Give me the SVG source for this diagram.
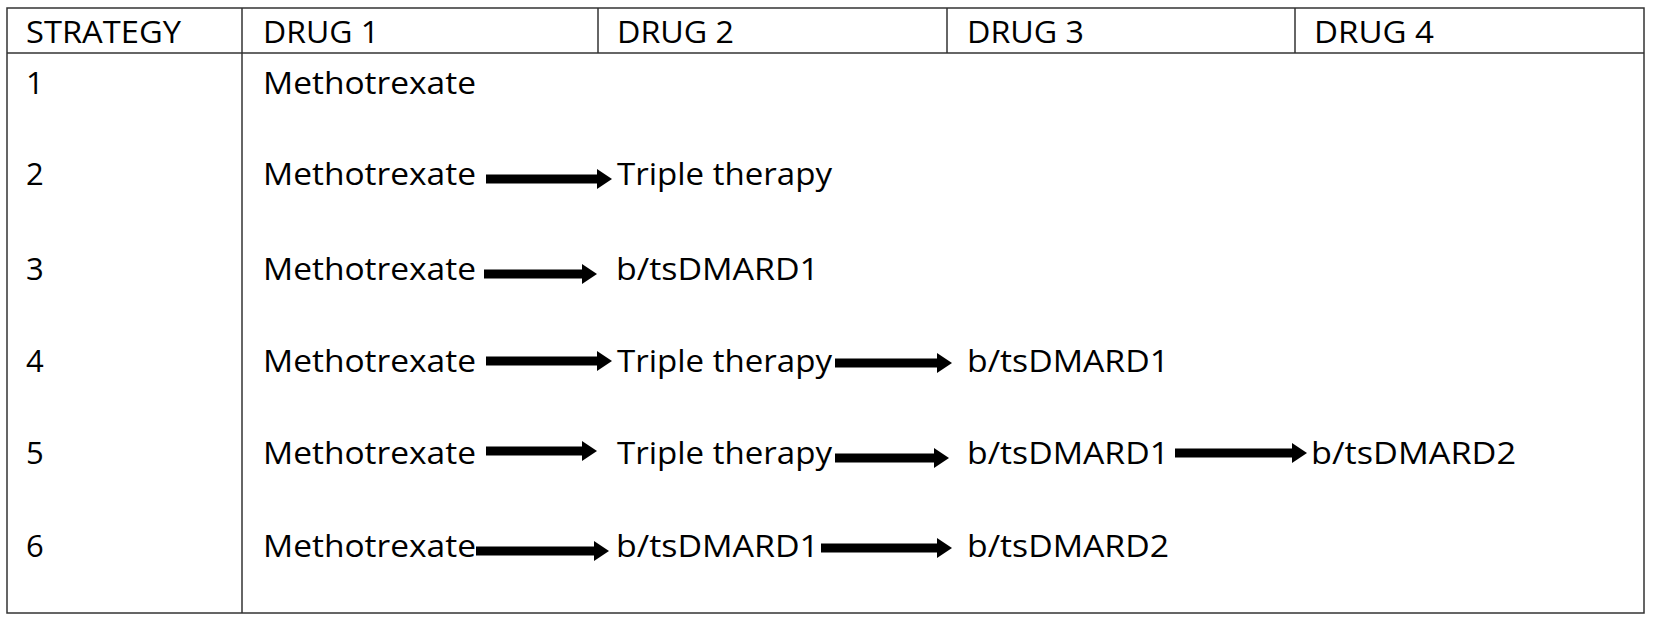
<svg xmlns="http://www.w3.org/2000/svg" width="1654" height="623" viewBox="0 0 1654 623">
<style>
.t{font-family:"Open Sans","Liberation Sans",sans-serif;font-size:31px;fill:#000}
.g{stroke:#333;stroke-width:1.5;fill:none}
.a{stroke:#000;stroke-width:9}
</style>
<defs>
<marker id="ah" markerUnits="userSpaceOnUse" markerWidth="18" markerHeight="22" refX="0" refY="10" orient="auto">
<path d="M0,0 L15,10 L0,20 z" fill="#000"/>
</marker>
</defs>
<rect width="1654" height="623" fill="#fff"/>
<g id="grid">
<rect class="g" x="7" y="8" width="1637" height="605"/>
<line class="g" x1="7" y1="53" x2="1644" y2="53"/>
<line class="g" x1="242" y1="8" x2="242" y2="613"/>
<line class="g" x1="598" y1="8" x2="598" y2="53"/>
<line class="g" x1="947" y1="8" x2="947" y2="53"/>
<line class="g" x1="1295" y1="8" x2="1295" y2="53"/>
</g>
<g id="header">
<text class="t" x="26" y="43" textLength="155" lengthAdjust="spacingAndGlyphs">STRATEGY</text>
<text class="t" x="263" y="43" textLength="116" lengthAdjust="spacingAndGlyphs">DRUG 1</text>
<text class="t" x="617" y="43" textLength="117" lengthAdjust="spacingAndGlyphs">DRUG 2</text>
<text class="t" x="967" y="43" textLength="117" lengthAdjust="spacingAndGlyphs">DRUG 3</text>
<text class="t" x="1314" y="43" textLength="120" lengthAdjust="spacingAndGlyphs">DRUG 4</text>
</g>
<g id="strategies">
<text class="t" x="26" y="94">1</text>
<text class="t" x="26" y="185">2</text>
<text class="t" x="26" y="280">3</text>
<text class="t" x="26" y="372">4</text>
<text class="t" x="26" y="464">5</text>
<text class="t" x="26" y="557">6</text>
</g>
<g id="row1"><text class="t" x="263" y="94" textLength="213" lengthAdjust="spacingAndGlyphs">Methotrexate</text></g>
<g id="row2">
<text class="t" x="263" y="185" textLength="213" lengthAdjust="spacingAndGlyphs">Methotrexate</text>
<text class="t" x="617" y="185" textLength="215" lengthAdjust="spacingAndGlyphs">Triple therapy</text>
</g>
<g id="row3">
<text class="t" x="263" y="280" textLength="213" lengthAdjust="spacingAndGlyphs">Methotrexate</text>
<text class="t" x="616" y="280" textLength="203" lengthAdjust="spacingAndGlyphs">b/tsDMARD1</text>
</g>
<g id="row4">
<text class="t" x="263" y="372" textLength="213" lengthAdjust="spacingAndGlyphs">Methotrexate</text>
<text class="t" x="617" y="372" textLength="215" lengthAdjust="spacingAndGlyphs">Triple therapy</text>
<text class="t" x="967" y="372" textLength="202" lengthAdjust="spacingAndGlyphs">b/tsDMARD1</text>
</g>
<g id="row5">
<text class="t" x="263" y="464" textLength="213" lengthAdjust="spacingAndGlyphs">Methotrexate</text>
<text class="t" x="617" y="464" textLength="215" lengthAdjust="spacingAndGlyphs">Triple therapy</text>
<text class="t" x="967" y="464" textLength="202" lengthAdjust="spacingAndGlyphs">b/tsDMARD1</text>
<text class="t" x="1311" y="464" textLength="205" lengthAdjust="spacingAndGlyphs">b/tsDMARD2</text>
</g>
<g id="row6">
<text class="t" x="263" y="557" textLength="213" lengthAdjust="spacingAndGlyphs">Methotrexate</text>
<text class="t" x="616" y="557" textLength="203" lengthAdjust="spacingAndGlyphs">b/tsDMARD1</text>
<text class="t" x="967" y="557" textLength="202" lengthAdjust="spacingAndGlyphs">b/tsDMARD2</text>
</g>
<g id="connectors">
<line class="a" x1="486" y1="179" x2="597" y2="179" marker-end="url(#ah)"/>
<line class="a" x1="484" y1="274" x2="582" y2="274" marker-end="url(#ah)"/>
<line class="a" x1="486" y1="361" x2="597" y2="361" marker-end="url(#ah)"/>
<line class="a" x1="835" y1="363" x2="937" y2="363" marker-end="url(#ah)"/>
<line class="a" x1="486" y1="451" x2="582" y2="451" marker-end="url(#ah)"/>
<line class="a" x1="835" y1="458" x2="934" y2="458" marker-end="url(#ah)"/>
<line class="a" x1="1175" y1="453" x2="1292" y2="453" marker-end="url(#ah)"/>
<line class="a" x1="476" y1="551" x2="594" y2="551" marker-end="url(#ah)"/>
<line class="a" x1="821" y1="548" x2="937" y2="548" marker-end="url(#ah)"/>
</g>
</svg>
